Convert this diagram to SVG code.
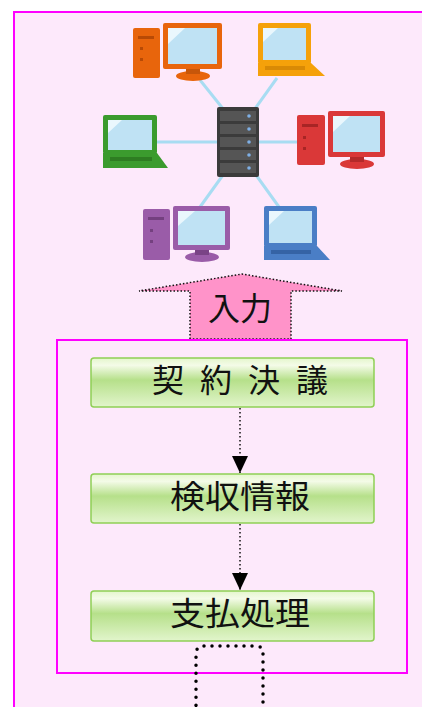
<svg xmlns="http://www.w3.org/2000/svg" width="422" height="707" viewBox="0 0 422 707">
  <defs>
    <style>
      .frame { fill: #fde9fb; stroke: #ff00ff; stroke-width: 2; }
      .btn { fill: url(#btnGrad); stroke: #8fcf55; stroke-width: 1.5; }
      .label { font-family: "Noto Sans CJK JP", "Noto Sans", sans-serif; font-size: 32px; fill: #111; text-anchor: middle; }
      .flow { stroke: #111; stroke-width: 1.5; stroke-dasharray: 1.5 2.5; fill: none; }
      .wire { stroke: #a8dcf2; stroke-width: 3; fill: none; }
      .screen { fill: #bfe2f4; }
      .shine { fill: #eaf7fd; }
    </style>
    <linearGradient id="btnGrad" x1="0" y1="0" x2="0" y2="1">
      <stop offset="0" stop-color="#e4f6cc"/>
      <stop offset="0.15" stop-color="#f4fbe8"/>
      <stop offset="0.45" stop-color="#b6e08a"/>
      <stop offset="1" stop-color="#e2f5cc"/>
    </linearGradient>
    <marker id="arrowHead" markerWidth="17" markerHeight="16" refX="17" refY="8" orient="auto" markerUnits="userSpaceOnUse" viewBox="0 0 17 16">
      <path d="M0,0 L17,8 L0,16 Z" fill="#000"/>
    </marker>
  </defs>

  <!-- page background and outer frame -->
  <rect x="0" y="0" width="422" height="707" fill="#ffffff"/>
  <rect x="14" y="12" width="412" height="700" class="frame"/>

  <!-- network illustration -->
  <g id="network">
    <g id="wires">
      <line class="wire" x1="200" y1="80" x2="224" y2="110"/>
      <line class="wire" x1="277" y1="78" x2="254" y2="110"/>
      <line class="wire" x1="156" y1="142" x2="218" y2="142"/>
      <line class="wire" x1="258" y1="142" x2="298" y2="142"/>
      <line class="wire" x1="223" y1="175" x2="200" y2="207"/>
      <line class="wire" x1="256" y1="175" x2="279" y2="207"/>
    </g>
    <g id="server">
      <rect x="217" y="107" width="42" height="70" rx="2" fill="#3b3b3b"/>
      <g fill="#555">
        <rect x="220" y="111" width="36" height="10"/>
        <rect x="220" y="124" width="36" height="10"/>
        <rect x="220" y="137" width="36" height="10"/>
        <rect x="220" y="150" width="36" height="10"/>
        <rect x="220" y="163" width="36" height="10"/>
      </g>
      <g fill="#7fb0e6">
        <circle cx="249" cy="116" r="1.8"/>
        <circle cx="249" cy="129" r="1.8"/>
        <circle cx="249" cy="142" r="1.8"/>
        <circle cx="249" cy="155" r="1.8"/>
        <circle cx="249" cy="168" r="1.8"/>
      </g>
    </g>
    <g id="pc-orange">
      <rect x="133" y="28" width="27" height="50" rx="2" fill="#e8650c"/>
      <rect x="138" y="36" width="16" height="3" fill="#b84a05"/>
      <rect x="140" y="47" width="3" height="3" fill="#b84a05"/>
      <rect x="140" y="58" width="3" height="3" fill="#b84a05"/>
      <ellipse cx="193" cy="76" rx="17" ry="5" fill="#e8650c"/>
      <rect x="186" y="66" width="14" height="8" fill="#c7560a"/>
      <rect x="163" y="23" width="59" height="46" rx="2" fill="#e8650c"/>
      <rect x="168" y="28" width="49" height="36" class="screen"/>
      <path d="M168,28 L185,28 L168,44 Z" class="shine"/>
    </g>
    <g id="laptop-yellow">
      <rect x="258" y="23" width="53" height="41" rx="2" fill="#f5a10a"/>
      <rect x="263" y="28" width="43" height="32" class="screen"/>
      <path d="M263,28 L278,28 L263,42 Z" class="shine"/>
      <path d="M258,63 L311,63 L325,76 L258,76 Z" fill="#f5a10a"/>
      <rect x="265" y="66" width="40" height="4" fill="#d98a05"/>
    </g>
    <g id="laptop-green">
      <rect x="103" y="115" width="54" height="39" rx="2" fill="#3b9b2e"/>
      <rect x="108" y="120" width="44" height="30" class="screen"/>
      <path d="M108,120 L122,120 L108,133 Z" class="shine"/>
      <path d="M103,153 L157,153 L168,168 L103,168 Z" fill="#3b9b2e"/>
      <rect x="110" y="157" width="42" height="4" fill="#2e7d22"/>
    </g>
    <g id="pc-red">
      <rect x="297" y="115" width="28" height="50" rx="2" fill="#da3838"/>
      <rect x="302" y="124" width="16" height="3" fill="#a82525"/>
      <rect x="303" y="136" width="3" height="3" fill="#a82525"/>
      <rect x="303" y="147" width="3" height="3" fill="#a82525"/>
      <ellipse cx="357" cy="164" rx="17" ry="5" fill="#da3838"/>
      <rect x="350" y="154" width="14" height="8" fill="#b42a2a"/>
      <rect x="328" y="111" width="57" height="46" rx="2" fill="#da3838"/>
      <rect x="333" y="116" width="47" height="36" class="screen"/>
      <path d="M333,116 L350,116 L333,132 Z" class="shine"/>
    </g>
    <g id="pc-purple">
      <rect x="143" y="209" width="27" height="51" rx="2" fill="#9a5ca8"/>
      <rect x="148" y="217" width="16" height="3" fill="#74407f"/>
      <rect x="150" y="229" width="3" height="3" fill="#74407f"/>
      <rect x="150" y="240" width="3" height="3" fill="#74407f"/>
      <ellipse cx="202" cy="257" rx="17" ry="5" fill="#9a5ca8"/>
      <rect x="195" y="247" width="14" height="8" fill="#7a4386"/>
      <rect x="173" y="206" width="57" height="44" rx="2" fill="#9a5ca8"/>
      <rect x="178" y="211" width="47" height="34" class="screen"/>
      <path d="M178,211 L195,211 L178,226 Z" class="shine"/>
    </g>
    <g id="laptop-blue">
      <rect x="264" y="206" width="53" height="41" rx="2" fill="#4a7ec6"/>
      <rect x="269" y="211" width="43" height="32" class="screen"/>
      <path d="M269,211 L284,211 L269,225 Z" class="shine"/>
      <path d="M264,246 L317,246 L330,260 L264,260 Z" fill="#4a7ec6"/>
      <rect x="271" y="250" width="40" height="4" fill="#3563a5"/>
    </g>
  </g>

  <!-- input block arrow -->
  <g id="input">
    <path d="M190,339 L190,291 L139,291 L242,274 L342,291 L291,291 L291,339 Z" fill="#ff93c9" stroke="#111" stroke-width="1.5" stroke-dasharray="1.5 2"/>
    <text x="240" y="320" class="label">入力</text>
  </g>

  <!-- process container -->
  <rect id="process" x="57" y="340" width="350" height="333" class="frame" fill="#fce3fc"/>

  <g id="connectors">
    <line class="flow" x1="240" y1="408" x2="240" y2="473" marker-end="url(#arrowHead)"/>
    <line class="flow" x1="240" y1="524" x2="240" y2="590" marker-end="url(#arrowHead)"/>
    <path d="M204,646 L256,646 Q263,646 263,653 L263,707 M204,646 Q196,646 196,654 L196,707" fill="none" stroke="#000" stroke-width="3.5" stroke-linecap="round" stroke-dasharray="0 8"/>
  </g>

  <g id="contract">
    <rect x="91" y="358" width="283" height="49" rx="3" class="btn"/>
    <text x="240" y="392" class="label" textLength="176" lengthAdjust="spacing">契 約 決 議</text>
  </g>
  <g id="inspection">
    <rect x="91" y="474" width="283" height="49" rx="3" class="btn"/>
    <text x="240" y="508" class="label" textLength="140" lengthAdjust="spacingAndGlyphs">検収情報</text>
  </g>
  <g id="payment">
    <rect x="91" y="591" width="283" height="50" rx="3" class="btn"/>
    <text x="240" y="625" class="label" textLength="140" lengthAdjust="spacingAndGlyphs">支払処理</text>
  </g>
</svg>
